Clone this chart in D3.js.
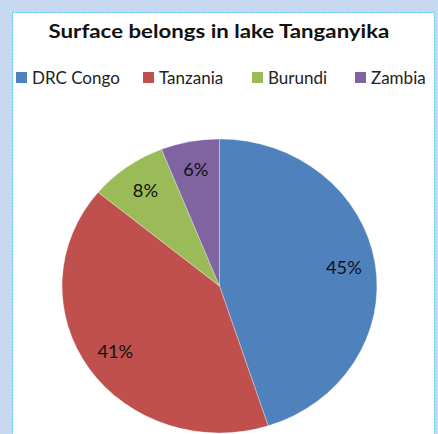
<!DOCTYPE html>
<html>
<head>
<meta charset="utf-8">
<script src="https://cdn.jsdelivr.net/npm/d3@7"></script>
<style>
  body { margin: 0; background: #c6d9f1; }
  svg { display: block; }
</style>
</head>
<body>
<svg id="chart" width="438" height="434"></svg>
<script>
// data
var countries = ["DRC Congo", "Tanzania", "Burundi", "Zambia"];
var shares = [45, 41, 8, 6];
var colours = ["#4f81bd", "#c0504d", "#9bbb59", "#8064a2"];
var title = "Surface belongs in lake Tanganyika";

var svg = d3.select("#chart");
var fontFam = "Lato, 'Open Sans', sans-serif";
// the original picture is stretched sideways
var stretch = 1.071;

// chart area (white with dotted border)
svg.append("rect")
    .attr("x", 12.5).attr("y", 12.5)
    .attr("width", 422).attr("height", 430)
    .attr("fill", "#fff")
    .attr("stroke", "#4cc3f2")
    .attr("stroke-dasharray", "2,1");

// make text a bit wider than the font gives
function widen(k) {
    return function(sel) {
        sel.each(function() {
            var w = this.getComputedTextLength();
            d3.select(this).attr("textLength", w * k).attr("lengthAdjust", "spacingAndGlyphs");
        });
    };
}

// title
svg.append("text")
    .attr("x", 219).attr("y", 38)
    .attr("text-anchor", "middle")
    .style("font", "bold 19.5px " + fontFam)
    .attr("fill", "#111")
    .text(title)
    .call(widen(1.14));

// legend
var legendX = [16, 143, 252, 355];
var leg = svg.append("g").selectAll("g")
    .data(countries)
    .enter().append("g")
    .attr("transform", function(d, i) { return "translate(" + legendX[i] + ",72)"; });
leg.append("rect")
    .attr("width", 11).attr("height", 11)
    .attr("fill", function(d, i) { return colours[i]; });
leg.append("text")
    .attr("x", 16).attr("y", 11.5)
    .style("font", "17px " + fontFam)
    .attr("fill", "#222")
    .text(function(d) { return d; })
    .call(widen(1.0));

// pie (stretched a bit horizontally, like the picture)
var r = 147, sx = stretch;
var cx = 219.5, cy = 286;
var pie = d3.pie().sort(null).value(function(d) { return d; });
var arc = d3.arc().innerRadius(0).outerRadius(r);
var labelArc = d3.arc().innerRadius(r * 0.8).outerRadius(r * 0.8);
var slices = pie(shares);

svg.append("clipPath").attr("id", "clipArea")
    .append("rect").attr("x", 13).attr("y", 13).attr("width", 421).attr("height", 421);

svg.append("g")
    .attr("clip-path", "url(#clipArea)")
    .append("g")
    .attr("transform", "translate(" + cx + "," + cy + ") scale(" + sx + ",1)")
    .selectAll("path")
    .data(slices)
    .enter().append("path")
    .attr("d", arc)
    .attr("fill", function(d, i) { return colours[i]; })
    .attr("stroke", "#fff")
    .attr("stroke-width", 0.3);

svg.append("g").selectAll("text")
    .data(slices)
    .enter().append("text")
    .attr("x", function(d) { return cx + labelArc.centroid(d)[0] * sx; })
    .attr("y", function(d) { return cy + labelArc.centroid(d)[1]; })
    .attr("dy", "0.35em")
    .attr("text-anchor", "middle")
    .style("font", "17px " + fontFam)
    .attr("fill", "#111")
    .text(function(d) { return d.data + "%"; })
    .call(widen(stretch));
</script>
</body>
</html>
